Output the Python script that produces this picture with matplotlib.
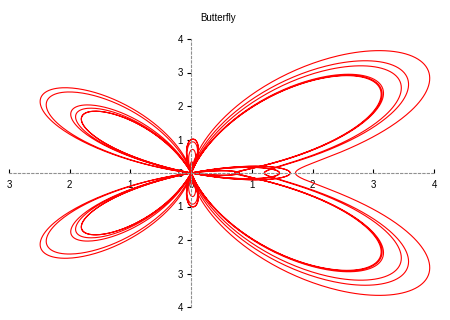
import numpy as np
import matplotlib
matplotlib.use("Agg")
import matplotlib.pyplot as plt

plt.rcParams['font.family'] = ['Liberation Sans', 'DejaVu Sans']
plt.rcParams['font.size'] = 7

# Butterfly curve parameters (polar form, rotated so the body lies on the x axis)
# r(t) = exp(cos t) - 2 cos(4t) + sin(t/12)^5
t_start = 0.0
t_end = 12 * np.pi
n_points = 6000
exp_weight = 1.0
cos4_weight = -2.0
sin5_weight = 1.0

x_ticks = [-3, -2, -1, 0, 1, 2, 3, 4]
y_ticks = [-4, -3, -2, -1, 0, 1, 2, 3, 4]

t = np.linspace(t_start, t_end, n_points)
r = exp_weight * np.exp(np.cos(t)) + cos4_weight * np.cos(4 * t) + sin5_weight * np.sin(t / 12) ** 5
x = r * np.cos(t)
y = r * np.sin(t)

fig = plt.figure(figsize=(4.5, 3.2), dpi=100)
ax = fig.add_axes([9 / 450, 13 / 320, 425 / 450, 268 / 320])

ax.plot(x, y, color='#ff0000', linewidth=0.8)

ax.set_xlim(-3, 4)
ax.set_ylim(-4, 4)

for side in ['top', 'right']:
    ax.spines[side].set_visible(False)
for side in ['left', 'bottom']:
    ax.spines[side].set_position('zero')
    ax.spines[side].set_linestyle((0, (2, 2)))
    ax.spines[side].set_color('#909090')
    ax.spines[side].set_linewidth(0.8)

ax.set_xticks(x_ticks)
ax.set_xticklabels([str(abs(v)) for v in x_ticks])
ax.set_yticks(y_ticks)
ax.set_yticklabels([str(abs(v)) for v in y_ticks])
ax.tick_params(axis='x', direction='in', length=3, width=0.8, pad=5)
ax.tick_params(axis='y', direction='out', length=3, width=0.8, pad=3)

fig.text(218 / 450, 1 - 18 / 320, 'Butterfly', ha='center', va='center', fontsize=7)

fig.savefig('out.png', dpi=100)
